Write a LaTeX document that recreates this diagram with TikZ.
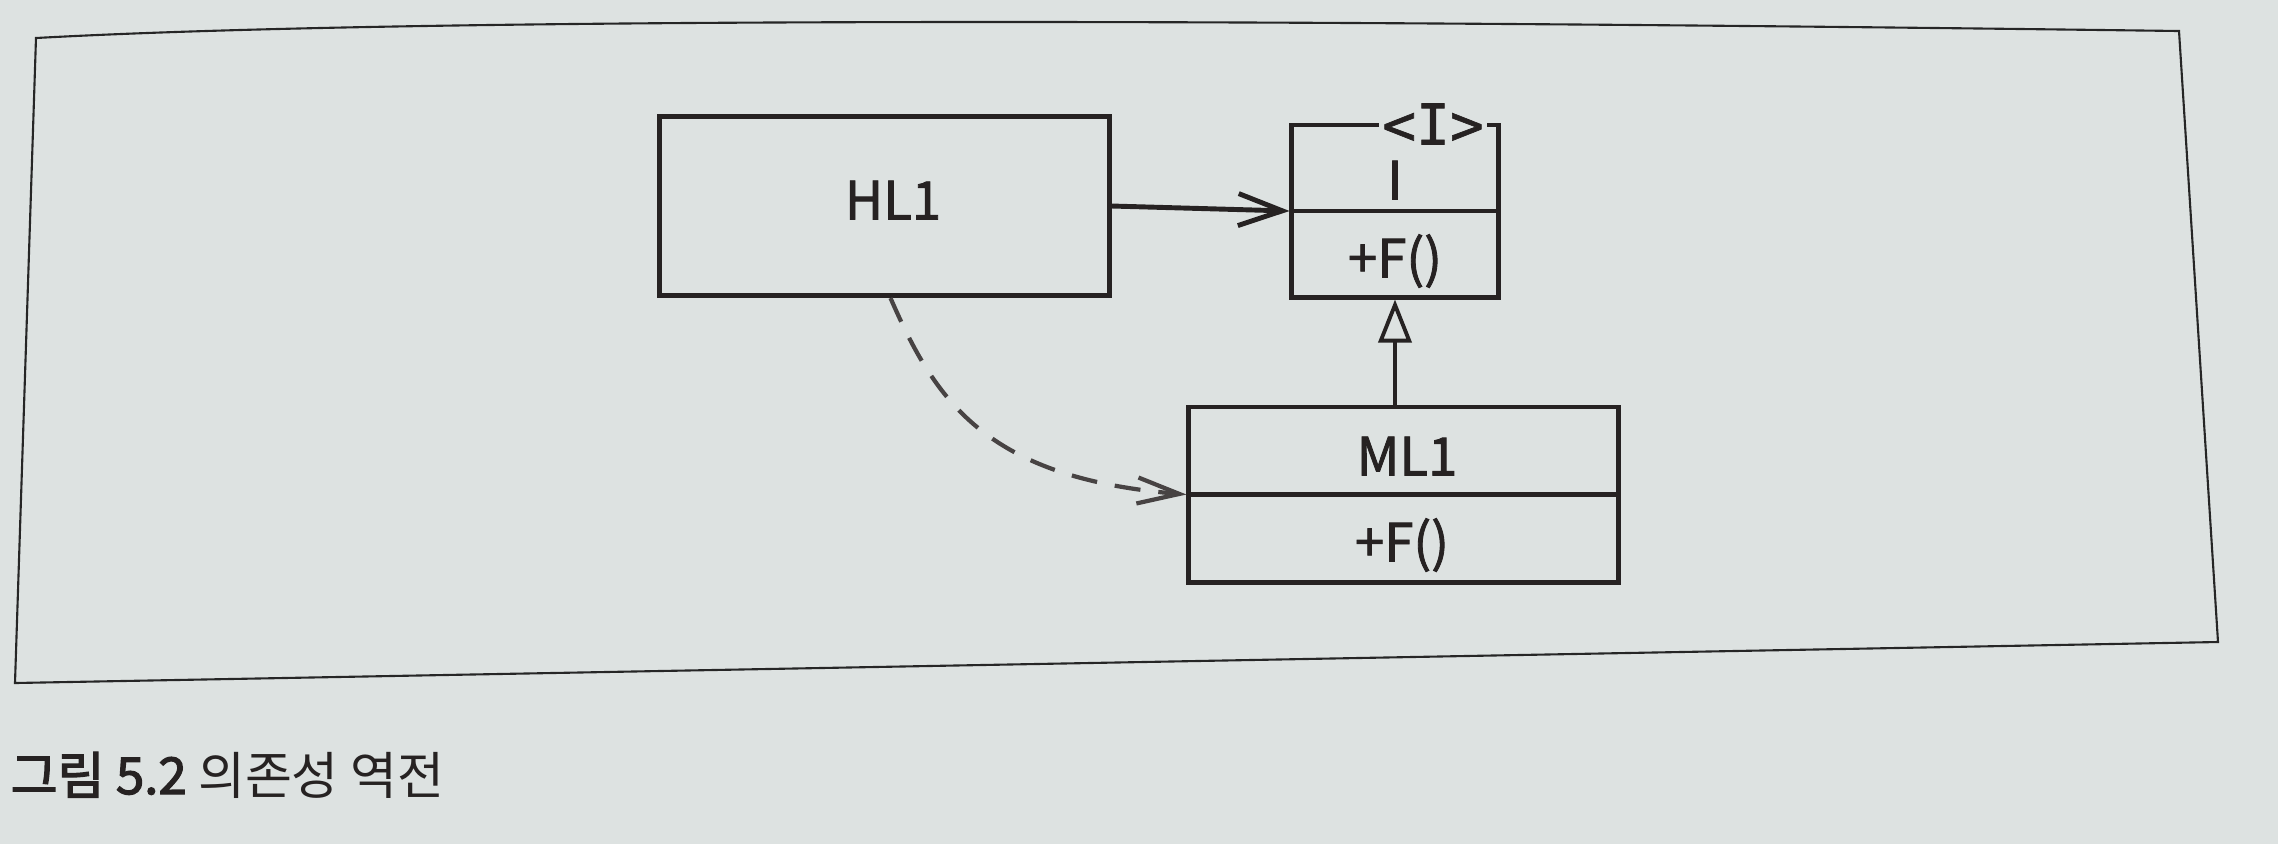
\documentclass[tikz,border=0pt]{standalone}
\usepackage{fontspec}
\setmainfont{Noto Sans CJK KR}[AutoFakeBold=2.5]
\newfontfamily\lblfont{Noto Sans CJK KR}[FakeBold=1.6]
\newfontfamily\monof{DejaVu Sans Mono}[FakeBold=1.2]
\usetikzlibrary{arrows.meta}
\definecolor{paper}{RGB}{221,226,225}
\definecolor{ink}{RGB}{38,34,34}
\begin{document}
\begin{tikzpicture}[x=0.01cm,y=-0.01cm,
  classbox/.style={draw=ink, line width=1.4pt, rectangle, inner sep=0pt},
  divline/.style={draw=ink, line width=1.4pt},
  lbl/.style={font=\lblfont\fontsize{15}{18}\selectfont, text=ink, inner sep=0pt},
  stereo/.style={font=\monof\fontsize{16}{19}\selectfont, text=ink, fill=paper, inner xsep=1pt, inner ysep=0pt},
  frameline/.style={draw=black!85, line width=0.6pt},
  assoc/.style={draw=ink, line width=1.4pt, -{Straight Barb[length=0.44cm,width=0.32cm]}},
  realize/.style={draw=ink, line width=1.1pt, -{Triangle[open,length=0.43cm,width=0.33cm]}},
  depend/.style={draw=ink!85, line width=1.2pt, dash pattern=on 0.26cm off 0.18cm, -{Straight Barb[length=0.42cm,width=0.26cm]}}
]
\fill[paper] (0,0) rectangle (2278,844);
\useasboundingbox (0,0) rectangle (2278,844);
% outer frame
\draw[frameline] (36,38) .. controls (400,18) and (1200,18) .. (2179,31) -- (2218,642) -- (15,683) -- cycle;
% classes
\node[classbox, minimum width=4.49cm, minimum height=1.79cm] (hl1) at (884.5,206) {};
\node[lbl] (hl1name) at (893,200) {HL1};
\node[classbox, minimum width=2.06cm, minimum height=1.72cm] (ifc) at (1395,211) {};
\draw[divline] (ifc.west) -- (ifc.east);
\node[stereo] (ifcst) at (1433,124) {<I>};
\node[lbl] (ifcname) at (1395,180) {I};
\node[lbl] (ifcop) at (1395,261) {+F()};
\node[classbox, minimum width=4.29cm, minimum height=1.75cm] (ml1) at (1403.5,494.5) {};
\draw[divline] (ml1.west) -- (ml1.east);
\node[lbl] (ml1name) at (1407,456) {ML1};
\node[lbl] (ml1op) at (1402,545) {+F()};
% connectors
\draw[assoc] (hl1.east) -- (ifc.west);
\draw[realize] (ifc.south |- ml1.north) -- (ifc.south);
\coordinate (dstart) at ([xshift=0.06cm]hl1.south);
\draw[depend] (dstart) .. controls (935,400) and (985,478) .. (ml1.west);
% caption
\node[anchor=west, font=\fontsize{14.5}{17}\selectfont, text=ink, inner sep=0pt] (caption) at (10,775) {\textbf{그림 5.2} 의존성 역전};
\end{tikzpicture}
\end{document}
